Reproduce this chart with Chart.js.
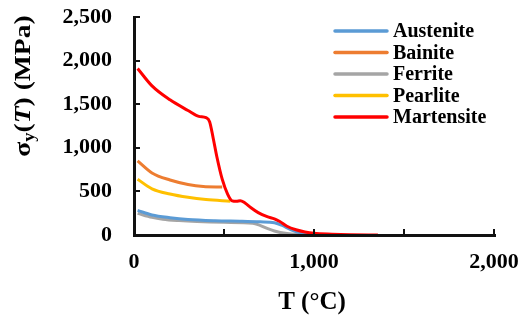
<!DOCTYPE html>
<html>
<head>
<meta charset="utf-8">
<script src="https://cdn.jsdelivr.net/npm/chart.js@4.4.1/dist/chart.umd.min.js"></script>
<style>
  html, body { margin: 0; padding: 0; background: #fff; }
  #wrap { width: 530px; height: 322px; position: relative; }
</style>
</head>
<body>
<div id="wrap"><canvas id="chart"></canvas></div>
<script>
// phase names, in legend order
const phases = ["Austenite", "Bainite", "Ferrite", "Pearlite", "Martensite"];
const phaseColors = ["#5B9BD5", "#ED7D31", "#A5A5A5", "#FFC000", "#FF0000"];

// yield strength vs temperature, [T (°C), MPa]
const austenite = [[20, 282], [100, 230], [200, 198], [300, 177], [450, 163], [600, 157], [700, 151], [780, 141], [820, 112], [870, 62], [920, 26], [1000, 6], [1100, 0]];
const bainite = [[20, 850], [100, 712], [200, 631], [300, 580], [385, 556], [490, 550]];
const ferrite = [[20, 248], [100, 202], [160, 181], [250, 165], [350, 154], [500, 145], [660, 134], [700, 110], [740, 76], [780, 46], [850, 16], [940, 0]];
const pearlite = [[20, 640], [100, 530], [200, 470], [300, 432], [400, 407], [535, 388]];
const martensite = [[20, 1910], [100, 1710], [200, 1550], [300, 1428], [360, 1360], [400, 1345], [420, 1300], [440, 1110], [460, 900], [490, 640], [520, 470], [545, 392], [570, 386], [590, 394], [615, 370], [650, 312], [690, 256], [740, 210], [780, 185], [810, 155], [850, 100], [900, 60], [950, 35], [1000, 20], [1100, 10], [1200, 4], [1355, 0]];

const series = [austenite, bainite, ferrite, pearlite, martensite];

const xTicks = [0, 1000, 2000];
const yTicks = [0, 500, 1000, 1500, 2000, 2500];

const serif = "'Liberation Serif', 'Times New Roman', serif";
const fmt = v => v.toLocaleString("en-US");

// axis lines with small inward tick marks, axis titles and the legend box
const decorations = {
  id: "decorations",
  afterDraw(chart) {
    const ctx = chart.ctx;
    const xs = chart.scales.x, ys = chart.scales.y;
    const x0 = Math.round(xs.getPixelForValue(0));
    const x1 = Math.round(xs.getPixelForValue(2000));
    const y0 = Math.round(ys.getPixelForValue(0));
    const y1 = Math.round(ys.getPixelForValue(2500));
    ctx.save();
    ctx.fillStyle = "#111";
    ctx.fillRect(x0 - 1, y1 - 1, 3, y0 - y1 + 3);
    ctx.fillRect(x0 - 1, y0 - 1, x1 - x0 + 3, 3);
    ys.ticks.forEach(t => {
      const py = Math.round(ys.getPixelForValue(t.value));
      ctx.fillRect(x0, py - 1, 6, 2);
    });
    xs.ticks.forEach(t => {
      const px = Math.round(xs.getPixelForValue(t.value));
      ctx.fillRect(px - 1, y0 - 6, 2, 6);
    });

    // x title
    ctx.fillStyle = "#000";
    ctx.font = "bold 25px " + serif;
    ctx.textAlign = "center";
    ctx.textBaseline = "middle";
    ctx.fillText("T (°C)", 312, 303);

    // y title: σy(T) (MPa), rotated
    const parts = [
      { t: "σ", f: "bold 24px " + serif, dy: 0 },
      { t: "y", f: "bold 16px " + serif, dy: 6 },
      { t: "(", f: "bold 24px " + serif, dy: 0 },
      { t: "T", f: "italic bold 24px " + serif, dy: 0 },
      { t: ") (MPa)", f: "bold 24px " + serif, dy: 0 }
    ];
    let total = 0;
    parts.forEach(p => { ctx.font = p.f; p.w = ctx.measureText(p.t).width; total += p.w; });
    ctx.translate(24, 86);
    ctx.rotate(-Math.PI / 2);
    ctx.scale(1.15, 1);
    ctx.textAlign = "left";
    let cx = -total / 2;
    parts.forEach(p => {
      ctx.font = p.f;
      ctx.fillText(p.t, cx, p.dy);
      cx += p.w;
    });
    ctx.restore();

    // legend
    ctx.save();
    ctx.font = "bold 20px " + serif;
    ctx.textAlign = "left";
    ctx.textBaseline = "middle";
    ctx.lineCap = "round";
    chart.data.datasets.forEach((ds, i) => {
      const y = 31 + i * 21.5;
      ctx.strokeStyle = ds.borderColor;
      ctx.lineWidth = 3.5;
      ctx.beginPath();
      ctx.moveTo(335, y);
      ctx.lineTo(387, y);
      ctx.stroke();
      ctx.fillStyle = "#000";
      ctx.fillText(ds.label, 393, y + 1);
    });
    ctx.restore();
  }
};

new Chart(document.getElementById("chart"), {
  type: "line",
  plugins: [decorations],
  data: {
    datasets: phases.map((name, i) => ({
      label: name,
      data: series[i].map(p => ({ x: p[0], y: p[1] })),
      borderColor: phaseColors[i],
      backgroundColor: phaseColors[i],
      borderWidth: 3,
      pointRadius: 0,
      cubicInterpolationMode: "monotone",
      // red curve sits on top of the others
      order: name === "Martensite" ? -1 : i
    }))
  },
  options: {
    responsive: true,
    maintainAspectRatio: false,
    animation: false,
    layout: { padding: { left: 0, right: 36, top: 17, bottom: 0 } },
    plugins: {
      legend: { display: false },
      tooltip: { enabled: false }
    },
    scales: {
      x: {
        type: "linear",
        min: 0,
        max: 2000,
        afterFit: s => { s.height = 87; s.paddingLeft = 0; s.paddingRight = 0; },
        grid: { display: false, drawTicks: false },
        border: { display: false },
        ticks: {
          stepSize: 500,
          padding: 14,
          color: "#000",
          font: { family: serif, size: 22, weight: "bold" },
          maxRotation: 0,
          callback: v => xTicks.includes(v) ? fmt(v) : ""
        }
      },
      y: {
        min: 0,
        max: 2500,
        afterFit: s => { s.width = 134; s.paddingTop = 0; s.paddingBottom = 0; },
        grid: { display: false, drawTicks: false },
        border: { display: false },
        ticks: {
          stepSize: 250,
          padding: 22,
          color: "#000",
          font: { family: serif, size: 22, weight: "bold" },
          callback: v => yTicks.includes(v) ? fmt(v) : ""
        }
      }
    }
  }
});
</script>
</body>
</html>
